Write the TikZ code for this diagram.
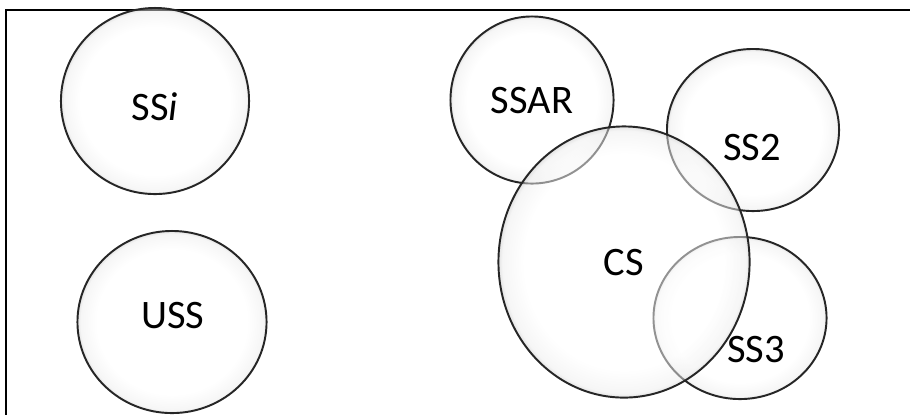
\documentclass[tikz,border=0pt]{standalone}
\usepackage{fontspec}
\setmainfont{Carlito}
\usetikzlibrary{shapes.geometric}
\pgfdeclareradialshading{rimshade}{\pgfpointorigin}{color(0bp)=(white); color(20bp)=(white); color(24.2bp)=(black!7); color(25bp)=(black!22); color(50bp)=(black!22)}

\begin{document}
\begin{tikzpicture}[
  x=0.01cm,y=-0.01cm,
  frame/.style={draw=black,line width=0.6pt},
  setc/.style={ellipse,draw=black!85,line width=0.55pt,shading=rimshade,
    fill opacity=0.5,draw opacity=1,inner sep=0pt,outer sep=0pt},
  lbl/.style={font=\fontsize{11.5}{13}\selectfont,text=black,inner sep=0pt}
]
\useasboundingbox (0,0) rectangle (910,414);

% frame: only the top and left sides are shown
\coordinate (fb) at (6,416);
\coordinate (fc) at (6,10);
\coordinate (fr) at (912,10);
\draw[frame] (fb) -- (fc) -- (fr);

% sets
\node[setc,minimum width=1.88cm,minimum height=1.86cm] (ssi) at (155,101) {};
\node[setc,minimum width=1.89cm,minimum height=1.82cm] (uss) at (172,322) {};
\node[setc,minimum width=1.63cm,minimum height=1.67cm] (ssar) at (532,100) {};
\node[setc,minimum width=1.72cm,minimum height=1.62cm] (ss2) at (753,130) {};
\node[setc,minimum width=1.73cm,minimum height=1.62cm] (ss3) at (740,318) {};
\node[setc,minimum width=2.51cm,minimum height=2.71cm] (cs) at (624,262) {};

% labels
\node[lbl] (ssi-l) at (155,107) {SS\textit{i}};
\node[lbl] (uss-l) at (173,316) {USS};
\node[lbl] (ssar-l) at (532,100) {SSAR};
\node[lbl] (ss2-l) at (752,147) {SS2};
\node[lbl] (cs-l) at (624,262) {CS};
\node[lbl] (ss3-l) at (756,349) {SS3};

\end{tikzpicture}
\end{document}
